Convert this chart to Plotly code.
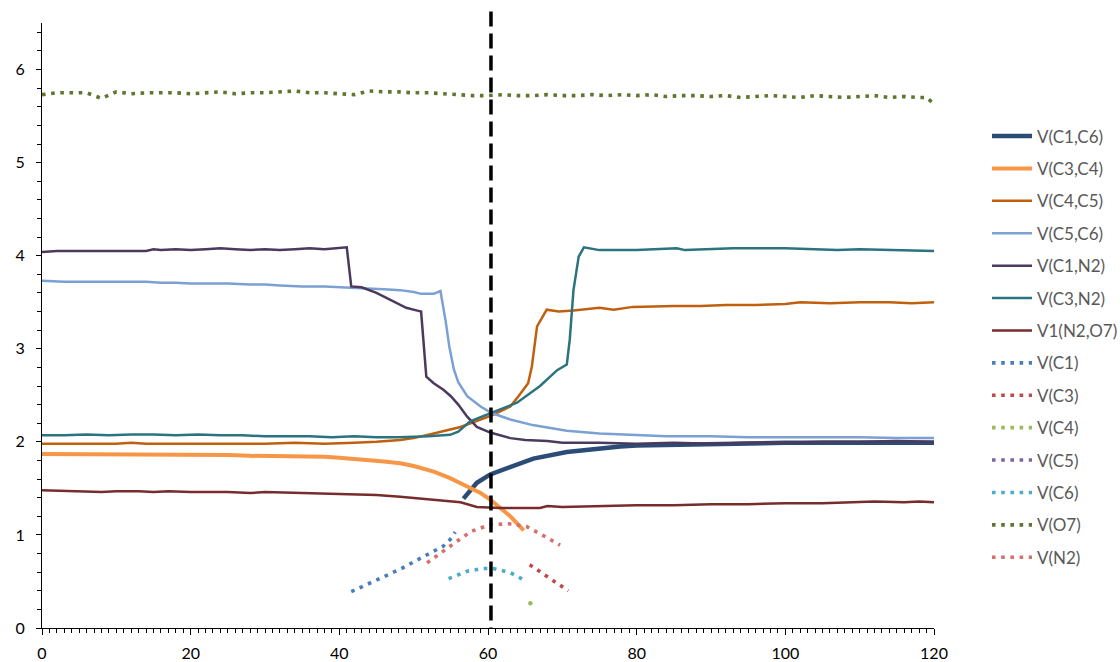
import plotly.graph_objects as go

# ---- data (x, y) ----
C1C6 = [(56.7,1.39),(57.5,1.47),(58.5,1.56),(60.3,1.65),(63,1.73),(66.1,1.82),(70.6,1.89),(75.1,1.93),
        (77.8,1.95),(80,1.96),(85,1.97),(90,1.98),(95,1.98),(100,1.99),(105,1.99),(110,1.99),(115,1.99),(120,1.99)]
C3C4 = [(0,1.87),(5,1.87),(10,1.87),(13,1.86),(15,1.87),(18,1.86),(20,1.87),(22,1.86),(25,1.86),(28,1.85),
        (30,1.85),(33,1.85),(35,1.84),(38,1.84),(40,1.83),(42,1.82),(44,1.81),(46,1.79),(48.2,1.77),(50,1.74),
        (52.7,1.68),(54.9,1.61),(57.2,1.52),(59,1.45),(60.3,1.38),(61.6,1.29),(63,1.20),(64.8,1.05)]
C4C5 = [(0,1.98),(5,1.98),(10,1.98),(12,1.99),(14,1.98),(20,1.98),(25,1.98),(30,1.98),(34,1.99),(38,1.98),
        (42,1.99),(45,2.00),(48.2,2.02),(50,2.04),(52.7,2.09),(56.3,2.16),(60.7,2.29),(63,2.38),(64.1,2.49),
        (65.4,2.63),(65.9,2.81),(66.6,3.24),(67.9,3.42),(69.5,3.40),(71.5,3.41),(73,3.42),(75,3.44),(76.9,3.42),
        (79.5,3.45),(85,3.46),(88.6,3.46),(92,3.47),(96,3.47),(100,3.48),(102,3.50),(106,3.49),(110,3.50),
        (114,3.50),(117,3.49),(120,3.50)]
C5C6 = [(0,3.73),(3,3.72),(6,3.72),(10,3.72),(14,3.72),(16,3.71),(18,3.71),(20,3.70),(22,3.70),(25,3.70),
        (28,3.69),(30,3.69),(32,3.68),(35,3.67),(38,3.67),(40,3.66),(43,3.65),(46,3.64),(48.2,3.63),(50,3.61),
        (51,3.59),(52.7,3.59),(53.6,3.62),(54.3,3.30),(54.8,3.02),(55.4,2.78),(56,2.64),(57.2,2.49),(59,2.38),
        (60.5,2.31),(63,2.24),(66,2.18),(70.6,2.12),(75,2.09),(80,2.07),(84,2.06),(90,2.06),(95,2.05),(102,2.05),
        (110,2.05),(115,2.04),(120,2.04)]
C1N2 = [(0,4.04),(2,4.05),(5,4.05),(10,4.05),(14,4.05),(15,4.07),(16,4.06),(18,4.07),(20,4.06),(22,4.07),
        (24,4.08),(26,4.07),(28,4.06),(30,4.07),(32,4.06),(34,4.07),(36,4.08),(38,4.07),(40,4.08),(41,4.09),
        (41.6,3.67),(43,3.66),(45,3.60),(47,3.52),(49,3.44),(50.5,3.41),(51,3.40),(51.7,2.70),(52.7,2.63),
        (54,2.56),(55,2.49),(56,2.40),(57.2,2.27),(58.5,2.16),(60.3,2.10),(63,2.04),(65,2.02),(68,2.01),
        (70,1.99),(75,1.99),(80,1.98),(85,1.99),(90,1.98),(95,1.99),(100,1.99),(105,2.00),(110,2.00),
        (115,2.01),(120,2.00)]
C3N2 = [(0,2.07),(3,2.07),(6,2.08),(9,2.07),(12,2.08),(15,2.08),(18,2.07),(21,2.08),(24,2.07),(27,2.07),
        (30,2.06),(33,2.06),(36,2.06),(39,2.05),(42,2.06),(45,2.05),(48,2.05),(52,2.06),(54.9,2.075),(56,2.11),
        (57.6,2.22),(60.7,2.32),(63.9,2.42),(67,2.60),(69.3,2.77),(70.6,2.83),(71,3.10),(71.5,3.63),(72.2,3.99),
        (72.9,4.09),(75,4.06),(80,4.06),(83,4.07),(85.4,4.08),(86.5,4.06),(90,4.07),(93,4.08),(97,4.08),
        (100,4.08),(104,4.07),(107,4.06),(110,4.07),(114,4.06),(117,4.06),(120,4.05)]
N2O7 = [(0,1.48),(3,1.47),(5,1.47),(8,1.46),(10,1.47),(13,1.47),(15,1.46),(17,1.47),(20,1.46),(25,1.46),
        (28,1.45),(30,1.46),(35,1.45),(40,1.44),(42,1.43),(45,1.43),(48.2,1.41),(52.7,1.38),(56.3,1.35),
        (58.5,1.30),(61.6,1.29),(67,1.29),(68,1.31),(70,1.30),(76,1.31),(80,1.32),(85,1.32),(90,1.33),
        (95,1.33),(100,1.34),(105,1.34),(108,1.35),(112,1.36),(116,1.35),(118,1.36),(120,1.35)]
VC1 = [(41.6,0.39),(44,0.48),(46,0.56),(48.4,0.64),(50.7,0.74),(52.9,0.84),(54,0.88),(54.9,0.95),(55.6,1.03)]
VC3 = [(65.6,0.68),(67.7,0.57),(69.7,0.46),(70.8,0.40)]
VC4 = [(65.7,0.265)]
VC5 = []
VC6 = [(54.7,0.53),(57.2,0.61),(59.4,0.64),(60.7,0.64),(63,0.595),(65.2,0.50)]
VO7 = [(0,5.73),(2,5.75),(4,5.75),(6,5.75),(8,5.69),(9,5.72),(10,5.76),(12,5.74),(14,5.75),(16,5.75),
       (18,5.75),(20,5.74),(22,5.75),(24,5.76),(26,5.74),(28,5.75),(30,5.75),(32,5.76),(34,5.77),(36,5.75),
       (38,5.75),(40,5.74),(42,5.73),(44,5.77),(46,5.76),(48,5.76),(50,5.75),(52,5.75),(54,5.74),(56,5.73),
       (58,5.72),(60,5.72),(62,5.73),(64,5.72),(66,5.72),(68,5.73),(70,5.72),(72,5.72),(74,5.73),(76,5.72),
       (78,5.73),(80,5.72),(82,5.73),(84,5.71),(86,5.72),(88,5.72),(90,5.71),(92,5.72),(94,5.70),(96,5.71),
       (98,5.72),(100,5.71),(102,5.70),(104,5.72),(106,5.71),(108,5.70),(110,5.71),(112,5.72),(114,5.70),
       (116,5.71),(118,5.70),(119,5.70),(120,5.63)]
VN2 = [(51.8,0.70),(53.8,0.82),(54.8,0.87),(55.8,0.93),(57.8,1.04),(60.3,1.11),(62.8,1.12),(65.2,1.09),
       (67.5,0.99),(69.7,0.89)]
TS_X = 60.4  # position of the dashed vertical marker

solid = [("V(C1,C6)", C1C6, "#2C4C78", 4.5), ("V(C3,C4)", C3C4, "#F79646", 4),
         ("V(C4,C5)", C4C5, "#C0600E", 2.5), ("V(C5,C6)", C5C6, "#7BA0D4", 2.5),
         ("V(C1,N2)", C1N2, "#4B3A5E", 2.5), ("V(C3,N2)", C3N2, "#2B737E", 2.5),
         ("V1(N2,O7)", N2O7, "#772D2B", 2.5)]
dotted = [("V(C1)", VC1, "#4A7EBB"), ("V(C3)", VC3, "#BE4B48"), ("V(C4)", VC4, "#9BBB59"),
          ("V(C5)", VC5, "#7F63A1"), ("V(C6)", VC6, "#4BACC6"), ("V(O7)", VO7, "#5F7530"),
          ("V(N2)", VN2, "#D4716F")]

fig = go.Figure()
for i, (name, pts, col, w) in enumerate(solid):
    fig.add_trace(go.Scatter(x=[p[0] for p in pts], y=[p[1] for p in pts], mode="lines", name=name,
                             legendgroup=name, line=dict(color=col, width=w)))
for name, pts, col in dotted:
    xs = [p[0] for p in pts] if pts else [None]
    ys = [p[1] for p in pts] if pts else [None]
    fig.add_trace(go.Scatter(x=xs, y=ys, mode="lines", name=name, legendgroup=name,
                             line=dict(color=col, width=3.6, dash="3.6px,5.6px")))
    if len(pts) == 1:
        fig.add_trace(go.Scatter(x=xs, y=ys, mode="markers", showlegend=False, legendgroup=name,
                                 marker=dict(color=col, size=4.5)))

fig.add_shape(type="line", xref="paper", yref="paper", x0=TS_X / 120, x1=TS_X / 120, y0=1.019, y1=0,
              line=dict(color="black", width=3.5, dash="15px,7px"))

fig.update_layout(
    width=1120, height=662, plot_bgcolor="white", paper_bgcolor="white",
    margin=dict(l=42, r=186, t=23, b=34, autoexpand=False),
    font=dict(family="Lato, Liberation Sans, sans-serif", size=15, color="#000000"),
    legend=dict(x=1.0594, xanchor="left", y=0.821, yanchor="top", yref="container",
                font=dict(size=17, color="#595959"), tracegroupgap=7.3, itemwidth=40,
                maxheight=640, bgcolor="rgba(0,0,0,0)"),
    showlegend=True,
)
fig.update_xaxes(range=[0, 120], dtick=20, showgrid=False, zeroline=False, showline=True,
                 linecolor="black", linewidth=1.2, ticks="outside", ticklen=6, tickcolor="black",
                 tickfont=dict(size=16, color="#000"), ticklabelstandoff=5,
                 minor=dict(dtick=1, ticks="outside", ticklen=4, tickcolor="black", showgrid=False))
fig.update_yaxes(range=[0, 6.5], dtick=1, showgrid=False, zeroline=False, showline=True,
                 linecolor="black", linewidth=1.2, ticks="outside", ticklen=5, tickcolor="black",
                 tickfont=dict(size=16, color="#000"), ticklabelstandoff=8,
                 minor=dict(dtick=0.2, ticks="outside", ticklen=4, tickcolor="black", showgrid=False))

fig.write_html("out.html", config={"displayModeBar": False},
               post_script="document.body.style.margin='0px';")
